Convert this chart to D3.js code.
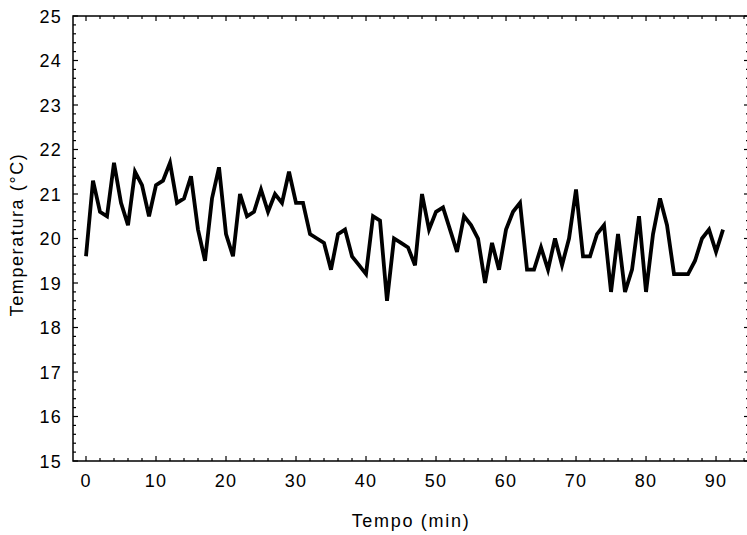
<!DOCTYPE html>
<html>
<head>
<meta charset="utf-8">
<script src="https://cdn.jsdelivr.net/npm/d3@7/dist/d3.min.js"></script>
<style>
  html, body { margin: 0; padding: 0; background: #fff; }
  svg { display: block; }
  text { font-family: "Liberation Sans", Arial, sans-serif; fill: #000; }
</style>
</head>
<body>
<svg id="chart" width="747" height="535"></svg>
<script>
// ---- data ----
const minutes = d3.range(0, 92);
const temperature = [
  19.6, 21.3, 20.6, 20.5, 21.7, 20.8, 20.3, 21.5, 21.2, 20.5,
  21.2, 21.3, 21.7, 20.8, 20.9, 21.4, 20.2, 19.5, 20.9, 21.6,
  20.1, 19.6, 21.0, 20.5, 20.6, 21.1, 20.6, 21.0, 20.8, 21.5,
  20.8, 20.8, 20.1, 20.0, 19.9, 19.3, 20.1, 20.2, 19.6, 19.4,
  19.2, 20.5, 20.4, 18.6, 20.0, 19.9, 19.8, 19.4, 21.0, 20.2,
  20.6, 20.7, 20.2, 19.7, 20.5, 20.3, 20.0, 19.0, 19.9, 19.3,
  20.2, 20.6, 20.8, 19.3, 19.3, 19.8, 19.3, 20.0, 19.4, 20.0,
  21.1, 19.6, 19.6, 20.1, 20.3, 18.8, 20.1, 18.8, 19.3, 20.5,
  18.8, 20.1, 20.9, 20.3, 19.2, 19.2, 19.2, 19.5, 20.0, 20.2,
  19.7, 20.2
];
const xTickValues = [0, 10, 20, 30, 40, 50, 60, 70, 80, 90];
const yTickValues = [15, 16, 17, 18, 19, 20, 21, 22, 23, 24, 25];
const xLabel = "Tempo (min)";
const yLabel = "Temperatura (°C)";

// ---- layout ----
const pLeft = 73, pTop = 16, pRight = 749, pBottom = 461;
const svg = d3.select("#chart");

const x = d3.scaleLinear().domain([-1.857, 94.71]).range([pLeft, pRight]);
const y = d3.scaleLinear().domain([15, 25]).range([pBottom, pTop]);

// minor tick values
const xMinor = d3.range(0, 95, 2).filter(v => v % 10 !== 0);
const yMinor = d3.range(150, 251, 2).map(v => v / 10).filter(v => Math.abs(v - Math.round(v)) > 1e-6);

const g = svg.append("g");

// frame
g.append("rect")
  .attr("x", pLeft).attr("y", pTop)
  .attr("width", pRight - pLeft).attr("height", pBottom - pTop)
  .attr("fill", "none").attr("stroke", "#000").attr("stroke-width", 1.5);

function ticksV(vals, len) {
  g.selectAll(null).data(vals).enter().append("line")
    .attr("x1", d => x(d)).attr("x2", d => x(d))
    .attr("y1", pBottom).attr("y2", pBottom - len)
    .attr("stroke", "#000").attr("stroke-width", 1.2);
  g.selectAll(null).data(vals).enter().append("line")
    .attr("x1", d => x(d)).attr("x2", d => x(d))
    .attr("y1", pTop).attr("y2", pTop + len)
    .attr("stroke", "#000").attr("stroke-width", 1.2);
}
function ticksH(vals, len) {
  g.selectAll(null).data(vals).enter().append("line")
    .attr("y1", d => y(d)).attr("y2", d => y(d))
    .attr("x1", pLeft).attr("x2", pLeft + len)
    .attr("stroke", "#000").attr("stroke-width", 1.2);
  g.selectAll(null).data(vals).enter().append("line")
    .attr("y1", d => y(d)).attr("y2", d => y(d))
    .attr("x1", pRight).attr("x2", pRight - len)
    .attr("stroke", "#000").attr("stroke-width", 1.2);
}
ticksV(xTickValues, 5);
ticksV(xMinor, 3);
ticksH(yTickValues, 5);
ticksH(yMinor, 3);

// tick labels
g.selectAll(null).data(xTickValues).enter().append("text")
  .attr("x", d => x(d)).attr("y", 487)
  .attr("text-anchor", "middle")
  .attr("font-size", 18).attr("letter-spacing", 1.2)
  .text(d => d);
g.selectAll(null).data(yTickValues).enter().append("text")
  .attr("x", 62).attr("y", d => y(d) + 6.5)
  .attr("text-anchor", "end")
  .attr("font-size", 18).attr("letter-spacing", 1.2)
  .text(d => d);

// axis titles
svg.append("text")
  .attr("x", 411).attr("y", 527)
  .attr("text-anchor", "middle")
  .attr("font-size", 18).attr("letter-spacing", 1.7)
  .text(xLabel);
svg.append("text")
  .attr("transform", `translate(23, ${(pTop + pBottom) / 2 - 4}) rotate(-90)`)
  .attr("text-anchor", "middle")
  .attr("font-size", 18).attr("letter-spacing", 1.6)
  .text(yLabel);

// data line
const line = d3.line()
  .x((d, i) => x(minutes[i]))
  .y(d => y(d));
svg.append("path")
  .datum(temperature)
  .attr("d", line)
  .attr("fill", "none")
  .attr("stroke", "#000")
  .attr("stroke-width", 3.8)
  .attr("stroke-linejoin", "miter");
</script>
</body>
</html>
